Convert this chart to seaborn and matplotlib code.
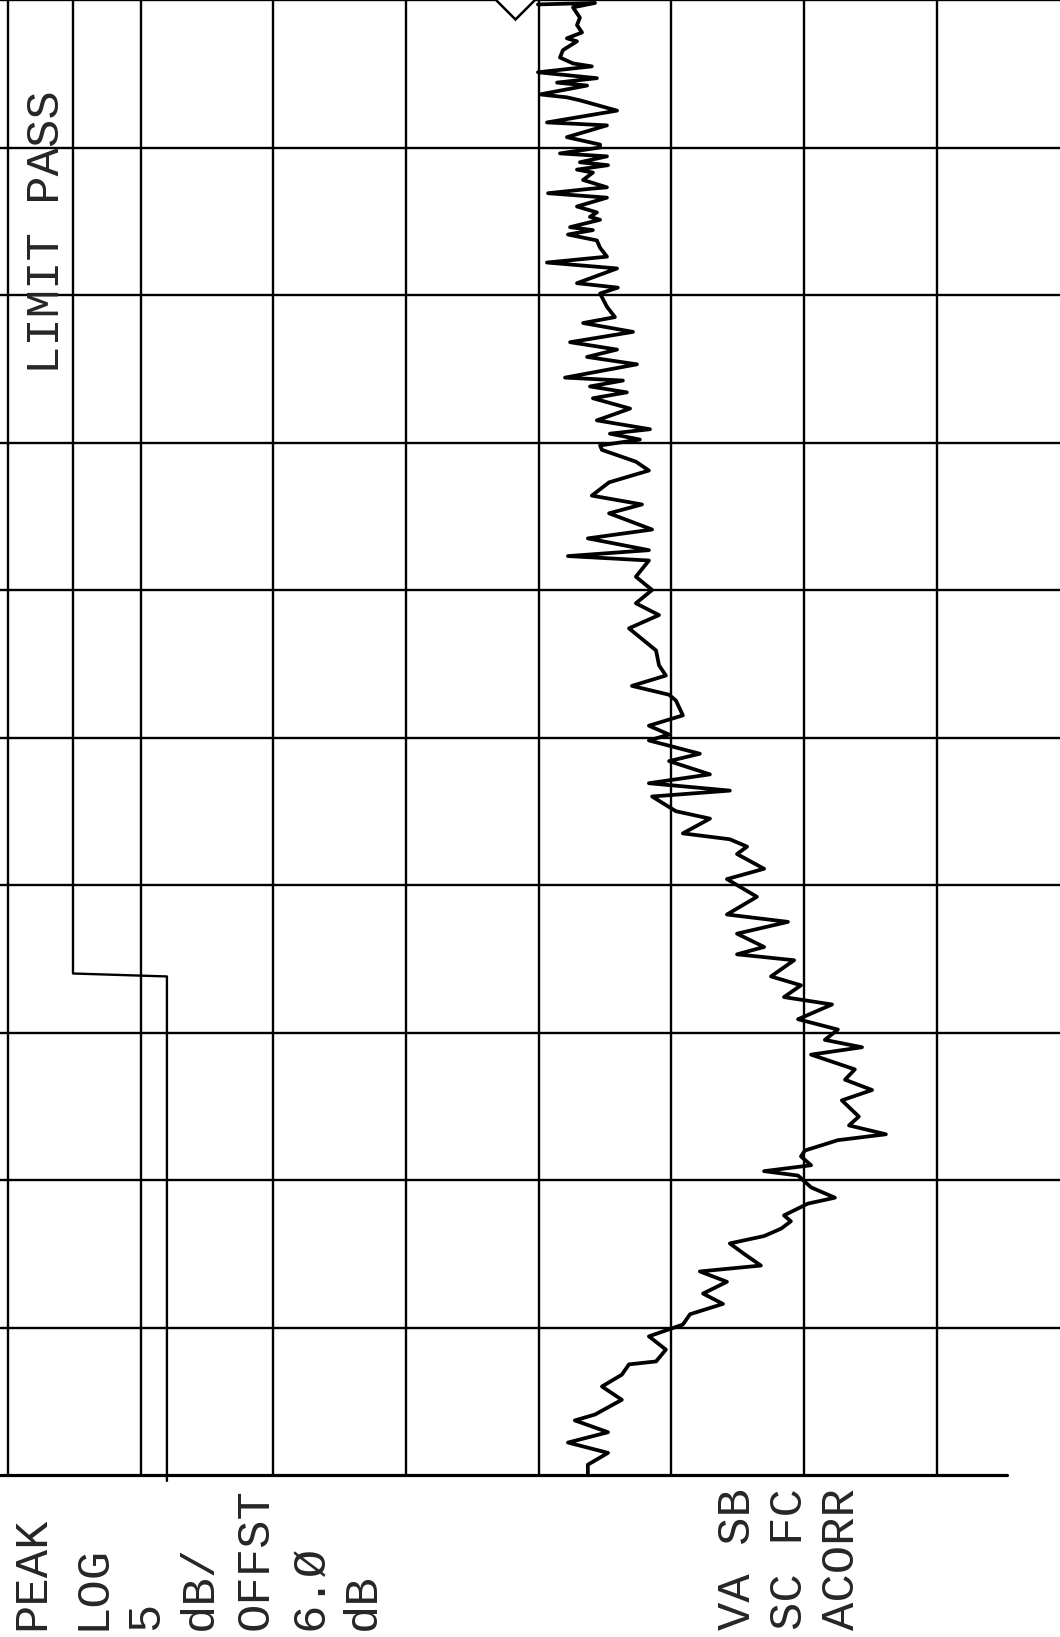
import pandas as pd
import matplotlib
matplotlib.use('Agg')
import matplotlib.pyplot as plt
import seaborn as sns

# sweep (rotated): frequency in divisions from the bottom,
# level in dB below the reference line (5 dB/div)
freq_div = [9.97, 9.98, 9.95, 9.88, 9.83, 9.78, 9.74, 9.72, 9.66, 9.61, 9.57, 9.55, 9.51, 9.47, 9.44,
            9.42, 9.36, 9.34, 9.32, 9.25, 9.17, 9.15, 9.07, 9.02,
            9.00, 8.96, 8.94, 8.90, 8.88, 8.85, 8.83, 8.78, 8.73, 8.72, 8.69, 8.66, 8.60, 8.56, 8.53,
            8.51, 8.46, 8.44, 8.41, 8.37, 8.32, 8.26, 8.22, 8.18, 8.08, 8.05, 8.01, 7.92, 7.85, 7.81,
            7.75, 7.68, 7.63, 7.58, 7.53, 7.44, 7.42, 7.38, 7.34, 7.30, 7.23, 7.15, 7.09, 7.06, 7.02, 6.98,
            6.95, 6.87, 6.81, 6.73, 6.64, 6.58, 6.52, 6.41, 6.35, 6.27,
            6.23, 6.20, 6.09, 6.00, 5.91, 5.83, 5.74, 5.63, 5.59, 5.49, 5.42, 5.35, 5.29, 5.25, 5.15,
            5.08, 5.02, 4.98, 4.89, 4.84, 4.75, 4.69, 4.64, 4.60, 4.50, 4.45, 4.35, 4.31, 4.26, 4.21,
            4.11, 4.04, 3.92, 3.80, 3.75, 3.67, 3.58, 3.53, 3.49, 3.38, 3.32, 3.24, 3.19, 3.09, 3.02,
            2.95, 2.90, 2.85, 2.75, 2.68, 2.61,
            2.54, 2.43, 2.37, 2.31, 2.27, 2.20, 2.16, 2.10, 2.06, 2.03, 1.95, 1.88, 1.84, 1.76, 1.72,
            1.67, 1.62, 1.57, 1.50, 1.42, 1.38, 1.31, 1.23, 1.16, 1.09, 1.02, 0.94, 0.85, 0.77, 0.75,
            0.68, 0.60, 0.51, 0.41, 0.37, 0.29, 0.22, 0.15, 0.07, 0.00]
level_db = [19.97, 22.12, 21.29, 21.55, 21.44, 21.63, 21.06, 21.44, 20.91, 20.80, 21.29, 22.00, 19.97, 22.19, 20.69,
            21.82, 20.05, 21.06, 21.55, 22.95, 20.31, 22.57, 21.06, 22.31,
            22.31, 20.80, 22.57, 21.55, 22.61, 21.44, 22.04, 21.67, 22.57, 21.93, 20.35, 22.57, 21.44, 22.19, 21.93,
            22.31, 21.18, 22.04, 21.10, 22.19, 22.31, 22.57, 20.31, 22.95, 21.44, 22.98, 22.31, 22.57, 22.87, 21.67,
            23.55, 21.18, 22.95, 21.82, 23.70, 20.99, 23.17, 21.93, 23.32, 22.04, 23.44, 22.19, 24.19, 22.68, 23.81, 22.31,
            22.38, 23.66, 24.15, 22.65, 22.00, 23.89, 22.65, 24.27, 21.85, 24.15,
            21.10, 24.15, 23.66, 24.27, 23.66, 24.53, 23.40, 24.15, 24.42, 24.53, 24.79, 23.51, 24.91, 25.17, 25.43,
            24.15, 24.91, 24.15, 26.07, 24.91, 26.45, 24.15, 27.20, 24.27, 25.17, 26.45, 25.43, 27.20, 27.85, 27.47,
            28.49, 27.09, 28.22, 27.09, 29.39, 27.47, 28.49, 27.47, 29.62, 28.75, 29.88, 29.24, 31.05, 29.77, 31.27,
            30.78, 32.18, 30.26, 31.91, 31.54, 32.56,
            31.42, 32.06, 31.69, 33.08, 31.27, 30.03, 29.88, 30.26, 28.49, 29.77, 30.26, 31.16, 30.14, 29.24, 29.50,
            29.13, 28.49, 27.20, 27.73, 28.37, 26.07, 27.09, 26.19, 26.94, 25.70, 25.43, 24.15, 24.79, 24.42, 23.40,
            23.13, 22.38, 23.13, 22.12, 21.36, 22.61, 21.10, 22.61, 21.85, 21.85]

# limit line
limit_freq = [10.0, 3.40, 3.38, -0.04]
limit_db = [2.45, 2.45, 5.99, 5.99]

# marker at the top of the sweep
marker_freq = 10.02
marker_db = 19.10

left_text = ['PEAK', 'LOG', '5', 'dB/', 'OFFST', '6.Ø', 'dB']
right_text = ['VA SB', 'SC FC', 'ACORR']
status_text = 'LIMIT PASS'

sns.set_style('white')
plt.rcParams['font.family'] = ['Liberation Mono', 'DejaVu Sans Mono']

fig = plt.figure(figsize=(10.6, 16.37), dpi=100)
ax = fig.add_axes([0, 162 / 1637, 1, 1475 / 1637])

trace = pd.DataFrame({'db': level_db, 'freq': freq_div})
sns.lineplot(data=trace, x='db', y='freq', sort=False, estimator=None,
             color='black', lw=2.7, ax=ax)

limit = pd.DataFrame({'db': limit_db, 'freq': limit_freq})
sns.lineplot(data=limit, x='db', y='freq', sort=False, estimator=None,
             color='black', lw=1.7, clip_on=False, ax=ax)

ax.plot(marker_db, marker_freq, marker='D', ms=22, mfc='white', mec='black', mew=1.8)

# graticule
ax.set_xlim(-0.30, 39.64)
ax.set_ylim(0, 10.0)
ax.set_xticks(range(0, 40, 5))
ax.set_yticks(range(1, 11))
ax.grid(True, color='black', lw=1.7)
ax.tick_params(length=0, labelbottom=False, labelleft=False)
ax.set_xlabel('')
ax.set_ylabel('')
for s in ax.spines.values():
    s.set_visible(False)
ax.plot([-0.30, 37.64], [0, 0], color='black', lw=2.3, clip_on=False)

# annotations (rotated, like the plotter output)
left_x = [32, 92, 146, 200, 256, 310, 363]
for t, xp in zip(left_text, left_x):
    fig.text(xp / 1060, (1637 - 1630) / 1637, t, rotation=90, ha='center', va='bottom', fontsize=34)
right_x = [738, 790, 842]
for t, xp in zip(right_text, right_x):
    fig.text(xp / 1060, (1637 - 1630) / 1637, t, rotation=90, ha='center', va='bottom', fontsize=34)
fig.text(47 / 1060, (1637 - 374) / 1637, status_text, rotation=90, ha='center', va='bottom', fontsize=34)

plt.savefig('out.png', dpi=100)
